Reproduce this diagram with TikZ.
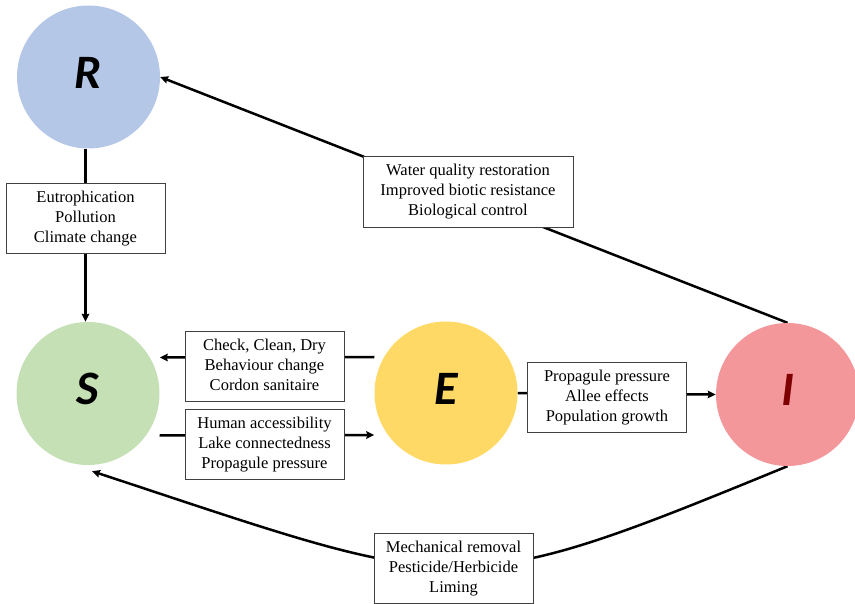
\documentclass[tikz,border=0pt]{standalone}
\usepackage{fontspec}
\setmainfont{Liberation Serif}
\newfontfamily\statefont{Carlito}
\usetikzlibrary{arrows.meta}
\definecolor{rblue}{HTML}{B4C7E7}
\definecolor{sgreen}{HTML}{C5E0B4}
\definecolor{eyellow}{HTML}{FFD966}
\definecolor{ipink}{HTML}{F4979A}
\definecolor{imaroon}{HTML}{7F0000}
\definecolor{boxline}{HTML}{404040}
\pgfdeclarelayer{bg}
\pgfsetlayers{bg,main}

\begin{document}
\begin{tikzpicture}[x=1pt,y=-1pt,
    state/.style={circle,minimum size=143pt,inner sep=0pt,text depth=9pt,
      font=\statefont\bfseries\itshape\fontsize{48}{48}\selectfont},
    factor/.style={draw=boxline,line width=0.8pt,fill=white,align=center,
      minimum width=159pt,minimum height=70pt,inner sep=2pt,text depth=3pt,
      font=\fontsize{16.5}{20}\selectfont},
    link/.style={line width=2.5pt},
    >={Stealth[length=8pt,width=7.5pt,inset=1pt]}]
        \useasboundingbox (0,0) rectangle (855,604);
        % the four states
        \node[state,fill=rblue] (R) at (88.5,77) {R};
        \node[state,fill=sgreen] (S) at (88,393.5) {S};
        \node[state,fill=eyellow] (E) at (446,393) {E};
        \node[state,fill=ipink,text=imaroon] (I) at (787.5,394.5) {I};
        % drivers and measures
        \node[factor] (eut) at (85.5,218) {Eutrophication\\Pollution\\Climate change};
        \node[factor,minimum width=210pt,minimum height=71pt] (wqr) at (468,191.5) {Water quality restoration\\Improved biotic resistance\\Biological control};
        \node[factor] (ccd) at (264.5,366.5) {Check, Clean, Dry\\Behaviour change\\Cordon sanitaire};
        \node[factor] (hac) at (264.5,444) {Human accessibility\\Lake connectedness\\Propagule pressure};
        \node[factor] (ppr) at (607,397.5) {Propagule pressure\\Allee effects\\Population growth};
        \node[factor] (mec) at (453.5,568.5) {Mechanical removal\\Pesticide/Herbicide\\Liming};
        % transitions, behind the boxes
        \begin{pgfonlayer}{bg}
        \draw[link] (eut.north |- R.south) -- (eut.north);
        \draw[link,->] (eut.south) -- (eut.south |- S.north);
        \draw[link,->] (I.north) -- (R.east);
        \draw[link,->] ([yshift=36]E.west) -- ([yshift=36]S.east);
        \draw[link,->] ([yshift=-42]S.east) -- ([yshift=-42]E.west);
        \draw[link,->] (E.east) -- (I.west);
        \draw[link,->] (I.south) .. controls (452,604) and (465,594) .. ([shift={(4,6)}]S.south);
        \end{pgfonlayer}
\end{tikzpicture}
\end{document}
